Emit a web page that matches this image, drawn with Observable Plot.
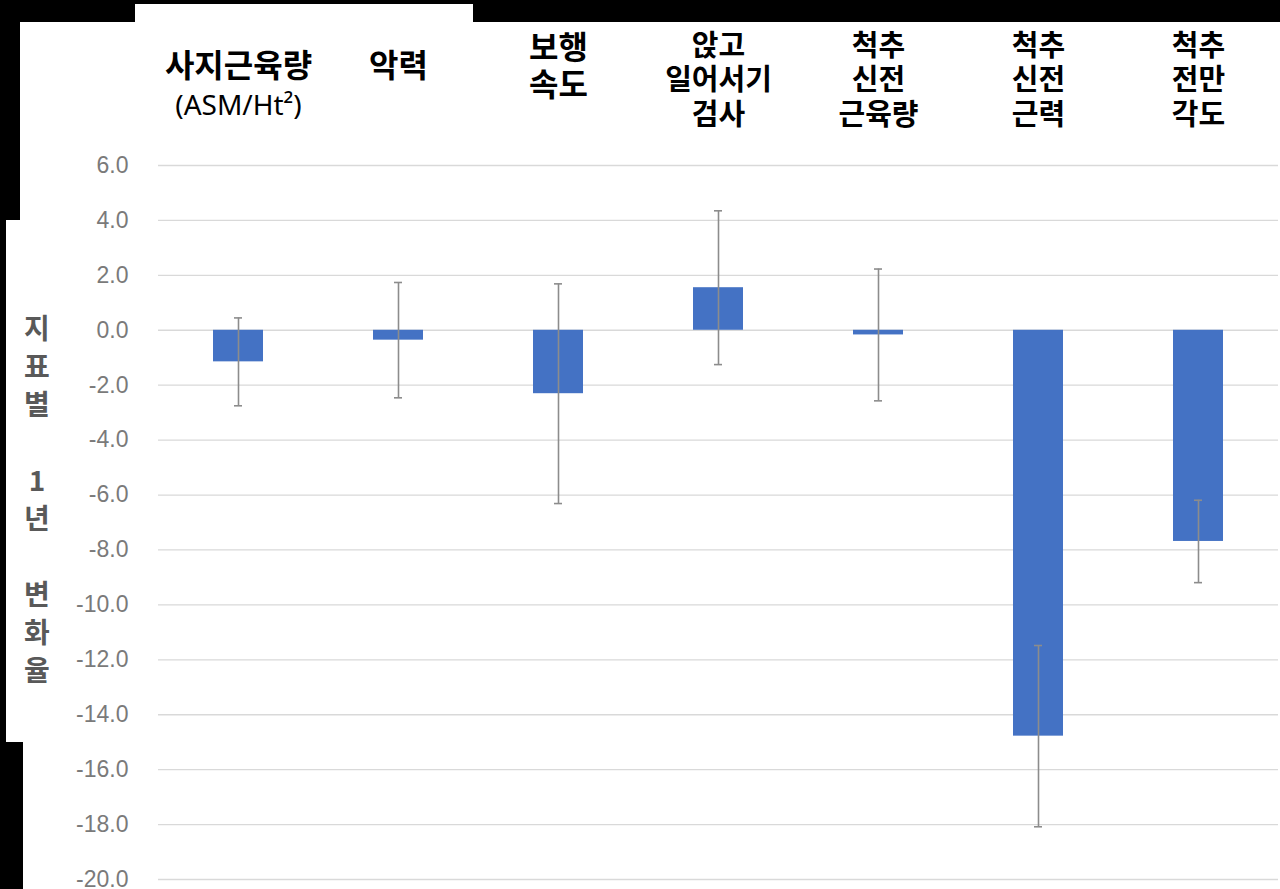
<!DOCTYPE html>
<html>
<head>
<meta charset="utf-8">
<script src="https://cdn.jsdelivr.net/npm/d3@7"></script>
<script src="https://cdn.jsdelivr.net/npm/@observablehq/plot@0.6"></script>
<style>
  html, body { margin: 0; padding: 0; background: #fff; }
  #wrap { position: relative; width: 1280px; height: 889px; overflow: hidden; background: #fff; }
  #chart { position: absolute; left: 0; top: 0; }
  .blk { position: absolute; background: #000; z-index: 5; }
  #ytitle { position: absolute; left: 17px; top: 308px; width: 40px; z-index: 3;
            font-family: "Noto Sans CJK KR", sans-serif; font-weight: 700; font-size: 28px;
            color: #595959; text-align: center; }
  #ytitle div { height: 38px; line-height: 38px; }
</style>
</head>
<body>
<div id="wrap">
  <div id="chart"></div>
  <div id="ytitle"></div>
  <div class="blk" style="left:0;top:0;width:135px;height:22px"></div>
  <div class="blk" style="left:0;top:0;width:20px;height:220px"></div>
  <div class="blk" style="left:0;top:220px;width:6px;height:522px"></div>
  <div class="blk" style="left:0;top:742px;width:23px;height:147px"></div>
  <div class="blk" style="left:135px;top:0;width:340px;height:4px"></div>
  <div class="blk" style="left:473px;top:0;width:807px;height:22px"></div>
</div>
<script>
// ---- data ----
const categories = ["사지근육량", "악력", "보행 속도", "앉고 일어서기 검사", "척추 신전 근육량", "척추 신전 근력", "척추 전만 각도"];
const categoryLabels = ["사지근육량", "악력", "보행\n속도", "앉고\n일어서기\n검사", "척추\n신전\n근육량", "척추\n신전\n근력", "척추\n전만\n각도"];
const unitNote = "(ASM/Ht²)";
const values = [-1.15, -0.36, -2.31, 1.55, -0.17, -14.78, -7.69];
const errors = [1.6, 2.1, 4.0, 2.8, 2.4, 3.3, 1.5];
const yTicks = [6, 4, 2, 0, -2, -4, -6, -8, -10, -12, -14, -16, -18, -20];
const yTitleLines = ["지", "표", "별", "", "1", "년", "", "변", "화", "율"];

// ---- build ----
const rows = categories.map((c, i) => ({cat: c, value: values[i], lo: values[i] - errors[i], hi: values[i] + errors[i]}));
const labelOf = new Map(categories.map((c, i) => [c, categoryLabels[i]]));

const groupA1 = categories.slice(0, 2);
const groupA2 = categories.slice(2, 3);
const groupB = categories.slice(3);

const cjk = "'Noto Sans CJK KR', sans-serif";

const chart = Plot.plot({
  width: 1280,
  height: 889,
  marginTop: 165,
  marginBottom: 10,
  marginLeft: 158,
  marginRight: 2,
  style: {background: "transparent", fontFamily: "'Liberation Sans', Arial, sans-serif"},
  x: {domain: categories, paddingInner: 0.6875, paddingOuter: 0.34375, axis: null},
  y: {domain: [-20, 6], axis: null},
  marks: [
    Plot.ruleY(yTicks, {stroke: "#d9d9d9", strokeWidth: 1.3}),
    Plot.barY(rows, {x: "cat", y: "value", fill: "#4472C4"}),
    Plot.ruleX(rows, {x: "cat", y1: "lo", y2: "hi", stroke: "#8c8c8c", strokeWidth: 1.6}),
    Plot.tickY(rows, {x: "cat", y: "lo", stroke: "#8c8c8c", strokeWidth: 1.6, insetLeft: 21, insetRight: 21}),
    Plot.tickY(rows, {x: "cat", y: "hi", stroke: "#8c8c8c", strokeWidth: 1.6, insetLeft: 21, insetRight: 21}),
    Plot.axisY({ticks: yTicks, tickFormat: d => d.toFixed(1), tickSize: 0, tickPadding: 30,
      fontSize: 23, color: "#7a7a7a", fontFamily: "'Liberation Sans', Arial, sans-serif", label: null}),
    Plot.axisX({anchor: "top", ticks: groupA1, tickFormat: d => labelOf.get(d), tickSize: 0, tickPadding: 0,
      lineAnchor: "top", dy: -111.2, fontSize: 32, fontWeight: "bold", color: "#000", fontFamily: cjk, label: null}),
    Plot.axisX({anchor: "top", ticks: groupA2, tickFormat: d => labelOf.get(d), tickSize: 0, tickPadding: 0,
      lineAnchor: "top", lineHeight: 1.16, dy: -133.2, fontSize: 32, fontWeight: "bold", color: "#000", fontFamily: cjk, label: null}),
    Plot.axisX({anchor: "top", ticks: groupB, tickFormat: d => labelOf.get(d), tickSize: 0, tickPadding: 0,
      lineAnchor: "top", lineHeight: 1.19, dy: -134.2, fontSize: 29, fontWeight: "bold", color: "#000", fontFamily: cjk, label: null}),
    Plot.axisX({anchor: "top", ticks: [categories[0]], tickFormat: () => unitNote, tickSize: 0, tickPadding: 0,
      lineAnchor: "top", dy: -70.8, fontSize: 28, color: "#000", fontFamily: "'Noto Sans', sans-serif", label: null})
  ]
});
document.getElementById("chart").appendChild(chart);

const yt = document.getElementById("ytitle");
for (const t of yTitleLines) {
  const d = document.createElement("div");
  d.textContent = t === "" ? "\u00a0" : t;
  yt.appendChild(d);
}
</script>
</body>
</html>
